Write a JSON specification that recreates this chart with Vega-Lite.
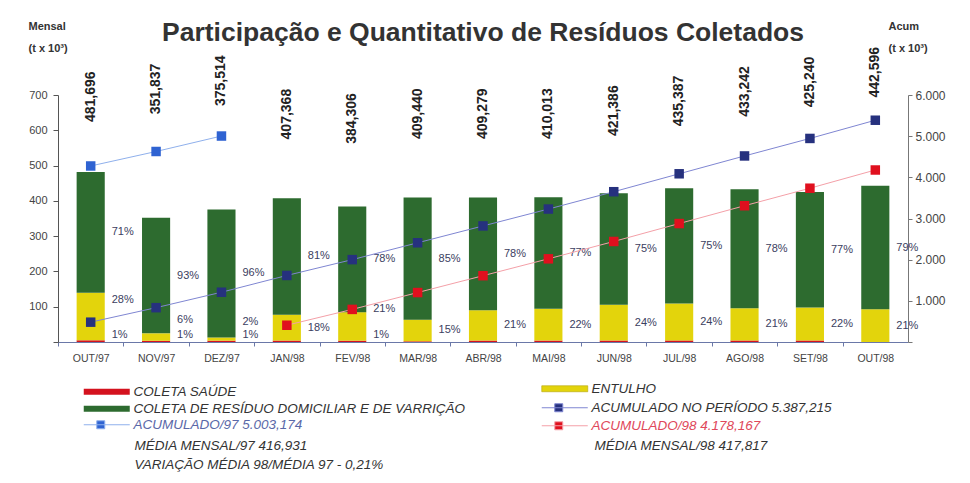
{
  "$schema": "https://vega.github.io/schema/vega-lite/v6.json",
  "width": 850,
  "height": 247,
  "autosize": {"type": "none"},
  "padding": {"left": 58, "top": 95, "right": 62, "bottom": 141},
  "background": "white",
  "title": {"text": "Participação e Quantitativo de Resíduos Coletados", "font": "Liberation Sans", "fontSize": 26.5, "fontWeight": "bold", "color": "#333333", "anchor": "middle", "frame": "group", "offset": 4, "dy": 30},
  "datasets": {
    "m": [
      {"m": "OUT/97", "total": 481.696, "sau": 4.8, "ent": 134.9, "dom": 342.0, "pSau": "1%", "pEnt": "28%", "pDom": "71%", "a97": 4275.823, "aP": 481.696, "a98": null},
      {"m": "NOV/97", "total": 351.837, "sau": 3.5, "ent": 21.1, "dom": 327.2, "pSau": "1%", "pEnt": "6%", "pDom": "93%", "a97": 4627.660, "aP": 833.533, "a98": null},
      {"m": "DEZ/97", "total": 375.514, "sau": 3.8, "ent": 9.0, "dom": 362.7, "pSau": "1%", "pEnt": "2%", "pDom": "96%", "a97": 5003.174, "aP": 1209.047, "a98": null},
      {"m": "JAN/98", "total": 407.368, "sau": 4.1, "ent": 73.3, "dom": 330.0, "pSau": null, "pEnt": "18%", "pDom": "81%", "a97": null, "aP": 1616.415, "a98": 407.368},
      {"m": "FEV/98", "total": 384.306, "sau": 3.8, "ent": 80.7, "dom": 299.8, "pSau": "1%", "pEnt": "21%", "pDom": "78%", "a97": null, "aP": 2000.721, "a98": 791.674},
      {"m": "MAR/98", "total": 409.440, "sau": 2.0, "ent": 61.4, "dom": 346.0, "pSau": null, "pEnt": "15%", "pDom": "85%", "a97": null, "aP": 2410.161, "a98": 1201.114},
      {"m": "ABR/98", "total": 409.279, "sau": 4.1, "ent": 85.9, "dom": 319.3, "pSau": null, "pEnt": "21%", "pDom": "78%", "a97": null, "aP": 2819.440, "a98": 1610.393},
      {"m": "MAI/98", "total": 410.013, "sau": 4.1, "ent": 90.2, "dom": 315.7, "pSau": null, "pEnt": "22%", "pDom": "77%", "a97": null, "aP": 3229.453, "a98": 2020.406},
      {"m": "JUN/98", "total": 421.386, "sau": 4.2, "ent": 101.1, "dom": 316.1, "pSau": null, "pEnt": "24%", "pDom": "75%", "a97": null, "aP": 3650.839, "a98": 2441.792},
      {"m": "JUL/98", "total": 435.387, "sau": 4.4, "ent": 104.5, "dom": 326.5, "pSau": null, "pEnt": "24%", "pDom": "75%", "a97": null, "aP": 4086.226, "a98": 2877.179},
      {"m": "AGO/98", "total": 433.242, "sau": 4.3, "ent": 91.0, "dom": 337.9, "pSau": null, "pEnt": "21%", "pDom": "78%", "a97": null, "aP": 4519.468, "a98": 3310.421},
      {"m": "SET/98", "total": 425.240, "sau": 4.3, "ent": 93.6, "dom": 327.3, "pSau": null, "pEnt": "22%", "pDom": "77%", "a97": null, "aP": 4944.708, "a98": 3735.661},
      {"m": "OUT/98", "total": 442.596, "sau": 0.0, "ent": 92.9, "dom": 349.7, "pSau": null, "pEnt": "21%", "pDom": "79%", "a97": null, "aP": 5387.215, "a98": 4178.167}
    ]
  },
  "data": {"name": "m"},
  "config": {
    "view": {"stroke": null},
    "font": "Liberation Sans",
    "axis": {"labelOverlap": false},
    "legend": {"orient": "none", "padding": 0, "labelFont": "Liberation Sans", "labelFontSize": 13.5, "labelFontStyle": "italic", "labelColor": "#333333", "labelLimit": 700, "symbolSize": 100, "symbolStrokeWidth": 0, "labelOffset": 38, "symbolOpacity": 1}
  },
  "layer": [
    {
      "layer": [
        {
          "transform": [{"fold": ["sau", "ent", "dom"], "as": ["cat", "v"]}, {"calculate": "indexof(['sau','ent','dom'], datum.cat)", "as": "o"}],
          "mark": {"type": "bar"},
          "encoding": {
            "x": {"field": "m", "type": "nominal", "sort": null, "scale": {"type": "band", "paddingInner": 0.57, "paddingOuter": 0.285},
              "axis": {"title": null, "labelAngle": 0, "labelFont": "Liberation Sans", "labelFontSize": 10.5, "labelColor": "#444444", "tickOffset": -32.7, "labelOffset": 32.7, "tickSize": 4, "tickColor": "#6a78a8", "domainColor": "#6a78a8", "labelPadding": 7, "grid": false}},
            "y": {"field": "v", "type": "quantitative", "stack": "zero", "scale": {"domain": [0, 700], "nice": false},
              "axis": {"orient": "left", "values": [0, 100, 200, 300, 400, 500, 600, 700], "labelOverlap": false, "labelExpr": "datum.value == 0 ? '' : datum.label", "grid": false, "title": ["Mensal", "(t x 10³)"], "titleAngle": 0, "titleAlign": "left", "titleBaseline": "top", "titleX": -30, "titleY": -75, "titleFontSize": 11, "titleFontWeight": "bold", "titleColor": "#333333", "titleLineHeight": 22, "labelFontSize": 11, "labelColor": "#444444", "tickSize": 5, "tickColor": "#555555", "domainColor": "#555555", "labelPadding": 6}},
            "color": {"field": "cat", "type": "nominal", "scale": {"domain": ["sau", "ent", "dom"], "range": ["#d4121e", "#e3d40c", "#2d6b2f"]}, "legend": null},
            "order": {"field": "o", "type": "quantitative"}
          }
        },
        {
          "transform": [{"calculate": "datum.sau + datum.ent + datum.dom / 2", "as": "yd"}],
          "mark": {"type": "text", "align": "left", "baseline": "middle", "dx": 21, "fontSize": 11, "color": "#3b4060"},
          "encoding": {
            "x": {"field": "m", "type": "nominal", "sort": null, "scale": {"type": "band", "paddingInner": 0.57, "paddingOuter": 0.285}},
            "y": {"field": "yd", "type": "quantitative", "scale": {"domain": [0, 700], "nice": false},
              "axis": {"orient": "left", "values": [0, 100, 200, 300, 400, 500, 600, 700], "labelOverlap": false, "labelExpr": "datum.value == 0 ? '' : datum.label", "grid": false, "title": ["Mensal", "(t x 10³)"], "titleAngle": 0, "titleAlign": "left", "titleBaseline": "top", "titleX": -30, "titleY": -75, "titleFontSize": 11, "titleFontWeight": "bold", "titleColor": "#333333", "titleLineHeight": 22, "labelFontSize": 11, "labelColor": "#444444", "tickSize": 5, "tickColor": "#555555", "domainColor": "#555555", "labelPadding": 6}},
            "text": {"field": "pDom"}
          }
        },
        {
          "transform": [{"filter": "datum.pSau == null"}, {"calculate": "datum.sau + datum.ent / 2", "as": "ye"}],
          "mark": {"type": "text", "align": "left", "baseline": "middle", "dx": 21, "fontSize": 11, "color": "#3b4060"},
          "encoding": {
            "x": {"field": "m", "type": "nominal", "sort": null, "scale": {"type": "band", "paddingInner": 0.57, "paddingOuter": 0.285}},
            "y": {"field": "ye", "type": "quantitative", "scale": {"domain": [0, 700], "nice": false},
              "axis": {"orient": "left", "values": [0, 100, 200, 300, 400, 500, 600, 700], "labelOverlap": false, "labelExpr": "datum.value == 0 ? '' : datum.label", "grid": false, "title": ["Mensal", "(t x 10³)"], "titleAngle": 0, "titleAlign": "left", "titleBaseline": "top", "titleX": -30, "titleY": -75, "titleFontSize": 11, "titleFontWeight": "bold", "titleColor": "#333333", "titleLineHeight": 22, "labelFontSize": 11, "labelColor": "#444444", "tickSize": 5, "tickColor": "#555555", "domainColor": "#555555", "labelPadding": 6}},
            "text": {"field": "pEnt"}
          }
        },
        {
          "transform": [{"filter": "datum.pSau != null"}, {"calculate": "datum.sau + datum.ent / 2", "as": "ye"}],
          "mark": {"type": "text", "align": "left", "baseline": "middle", "dx": 21, "dy": -17, "fontSize": 11, "color": "#3b4060"},
          "encoding": {
            "x": {"field": "m", "type": "nominal", "sort": null, "scale": {"type": "band", "paddingInner": 0.57, "paddingOuter": 0.285}},
            "y": {"field": "ye", "type": "quantitative", "scale": {"domain": [0, 700], "nice": false},
              "axis": {"orient": "left", "values": [0, 100, 200, 300, 400, 500, 600, 700], "labelOverlap": false, "labelExpr": "datum.value == 0 ? '' : datum.label", "grid": false, "title": ["Mensal", "(t x 10³)"], "titleAngle": 0, "titleAlign": "left", "titleBaseline": "top", "titleX": -30, "titleY": -75, "titleFontSize": 11, "titleFontWeight": "bold", "titleColor": "#333333", "titleLineHeight": 22, "labelFontSize": 11, "labelColor": "#444444", "tickSize": 5, "tickColor": "#555555", "domainColor": "#555555", "labelPadding": 6}},
            "text": {"field": "pEnt"}
          }
        },
        {
          "transform": [{"filter": "datum.pSau != null"}, {"calculate": "0", "as": "yz"}],
          "mark": {"type": "text", "align": "left", "baseline": "middle", "dx": 21, "dy": -7, "fontSize": 11, "color": "#3b4060"},
          "encoding": {
            "x": {"field": "m", "type": "nominal", "sort": null, "scale": {"type": "band", "paddingInner": 0.57, "paddingOuter": 0.285}},
            "y": {"field": "yz", "type": "quantitative", "scale": {"domain": [0, 700], "nice": false},
              "axis": {"orient": "left", "values": [0, 100, 200, 300, 400, 500, 600, 700], "labelOverlap": false, "labelExpr": "datum.value == 0 ? '' : datum.label", "grid": false, "title": ["Mensal", "(t x 10³)"], "titleAngle": 0, "titleAlign": "left", "titleBaseline": "top", "titleX": -30, "titleY": -75, "titleFontSize": 11, "titleFontWeight": "bold", "titleColor": "#333333", "titleLineHeight": 22, "labelFontSize": 11, "labelColor": "#444444", "tickSize": 5, "tickColor": "#555555", "domainColor": "#555555", "labelPadding": 6}},
            "text": {"field": "pSau"}
          }
        },
        {
          "transform": [
            {"calculate": "replace(format(datum.total, '.3f'), '.', ',')", "as": "lbl"},
            {"calculate": "max(datum.total, (datum.a97 || 0) * 7 / 60, datum.aP * 7 / 60) * 0.537 + 427", "as": "ly"}
          ],
          "mark": {"type": "text", "angle": 270, "align": "center", "baseline": "middle", "fontSize": 14, "fontWeight": "bold", "color": "#222222"},
          "encoding": {
            "x": {"field": "m", "type": "nominal", "sort": null, "scale": {"type": "band", "paddingInner": 0.57, "paddingOuter": 0.285}},
            "y": {"field": "ly", "type": "quantitative", "scale": {"domain": [0, 700], "nice": false},
              "axis": {"orient": "left", "values": [0, 100, 200, 300, 400, 500, 600, 700], "labelOverlap": false, "labelExpr": "datum.value == 0 ? '' : datum.label", "grid": false, "title": ["Mensal", "(t x 10³)"], "titleAngle": 0, "titleAlign": "left", "titleBaseline": "top", "titleX": -30, "titleY": -75, "titleFontSize": 11, "titleFontWeight": "bold", "titleColor": "#333333", "titleLineHeight": 22, "labelFontSize": 11, "labelColor": "#444444", "tickSize": 5, "tickColor": "#555555", "domainColor": "#555555", "labelPadding": 6}},
            "text": {"field": "lbl"}
          }
        },
        {
          "transform": [{"filter": "false"}],
          "mark": {"type": "square", "opacity": 1},
          "encoding": {"color": {"datum": "COLETA SAÚDE", "type": "nominal", "scale": {"range": ["#d4121e"]},
            "legend": {"title": null, "legendX": 24, "legendY": 290, "symbolType": "M-1,-0.6H8.2V0.6H-1Z",
              "encode": {"symbols": {"update": {"fill": {"value": "#d4121e"}, "opacity": {"value": 1}}}}}}}
        },
        {
          "transform": [{"filter": "false"}],
          "mark": {"type": "square", "opacity": 1},
          "encoding": {"color": {"datum": "COLETA DE RESÍDUO DOMICILIAR E DE VARRIÇÃO", "type": "nominal", "scale": {"range": ["#2d6b2f"]},
            "legend": {"title": null, "legendX": 24, "legendY": 307, "symbolType": "M-1,-0.6H8.2V0.6H-1Z",
              "encode": {"symbols": {"update": {"fill": {"value": "#2d6b2f"}, "opacity": {"value": 1}}}}}}}
        },
        {
          "transform": [{"filter": "false"}],
          "mark": {"type": "square", "opacity": 1},
          "encoding": {"color": {"datum": "ENTULHO", "type": "nominal", "scale": {"range": ["#e3d40c"]},
            "legend": {"title": null, "legendX": 482, "legendY": 287, "symbolType": "M-1,-0.6H8.2V0.6H-1Z",
              "encode": {"symbols": {"update": {"fill": {"value": "#e3d40c"}, "stroke": {"value": "#b3a40a"}, "strokeWidth": {"value": 0.6}, "opacity": {"value": 1}}}}}}}
        },
        {
          "transform": [{"filter": "false"}],
          "mark": {"type": "square", "opacity": 1},
          "encoding": {"color": {"datum": "MÉDIA MENSAL/97 416,931", "type": "nominal", "scale": {"range": ["#ffffff"]},
            "legend": {"title": null, "legendX": 63, "legendY": 344, "symbolSize": 0, "symbolOpacity": 0, "labelOffset": 0}}}
        },
        {
          "transform": [{"filter": "false"}],
          "mark": {"type": "square", "opacity": 1},
          "encoding": {"color": {"datum": "VARIAÇÃO MÉDIA 98/MÉDIA 97 - 0,21%", "type": "nominal", "scale": {"range": ["#ffffff"]},
            "legend": {"title": null, "legendX": 63, "legendY": 363, "symbolSize": 0, "symbolOpacity": 0, "labelOffset": 0}}}
        },
        {
          "transform": [{"filter": "false"}],
          "mark": {"type": "square", "opacity": 1},
          "encoding": {"color": {"datum": "MÉDIA MENSAL/98 417,817", "type": "nominal", "scale": {"range": ["#ffffff"]},
            "legend": {"title": null, "legendX": 523, "legendY": 344, "symbolSize": 0, "symbolOpacity": 0, "labelOffset": 0}}}
        }
      ],
      "resolve": {"scale": {"color": "independent"}}
    },
    {
      "layer": [
        {
          "transform": [{"filter": "datum.a97 != null"}],
          "mark": {"type": "line", "color": "#8fb0ec", "strokeWidth": 1},
          "encoding": {
            "x": {"field": "m", "type": "nominal", "sort": null, "scale": {"type": "band", "paddingInner": 0.57, "paddingOuter": 0.285}},
            "y": {"field": "a97", "type": "quantitative", "scale": {"domain": [0, 6000], "nice": false},
              "axis": {"orient": "right", "values": [0, 1000, 2000, 3000, 4000, 5000, 6000], "labelOverlap": false, "labelExpr": "datum.value == 0 ? '' : replace(format(datum.value, ','), ',', '.')", "grid": false, "title": ["Acum", "(t x 10³)"], "titleAngle": 0, "titleAlign": "left", "titleBaseline": "top", "titleX": -20, "titleY": -75, "titleFontSize": 11, "titleFontWeight": "bold", "titleColor": "#333333", "titleLineHeight": 22, "labelFontSize": 12, "labelColor": "#444444", "tickSize": 4, "tickColor": "#777777", "domainColor": "#777777", "labelPadding": 3}}
          }
        },
        {
          "transform": [{"filter": "datum.a97 != null"}],
          "mark": {"type": "square", "size": 90, "opacity": 1, "filled": true},
          "encoding": {
            "x": {"field": "m", "type": "nominal", "sort": null, "scale": {"type": "band", "paddingInner": 0.57, "paddingOuter": 0.285}},
            "y": {"field": "a97", "type": "quantitative", "scale": {"domain": [0, 6000], "nice": false},
              "axis": {"orient": "right", "values": [0, 1000, 2000, 3000, 4000, 5000, 6000], "labelOverlap": false, "labelExpr": "datum.value == 0 ? '' : replace(format(datum.value, ','), ',', '.')", "grid": false, "title": ["Acum", "(t x 10³)"], "titleAngle": 0, "titleAlign": "left", "titleBaseline": "top", "titleX": -20, "titleY": -75, "titleFontSize": 11, "titleFontWeight": "bold", "titleColor": "#333333", "titleLineHeight": 22, "labelFontSize": 12, "labelColor": "#444444", "tickSize": 4, "tickColor": "#777777", "domainColor": "#777777", "labelPadding": 3}},
            "color": {"datum": "ACUMULADO/97 5.003,174", "type": "nominal", "scale": {"range": ["#2f63d2"]},
              "legend": {"title": null, "legendX": 24, "legendY": 323, "symbolType": "M-1,0H8.2M1.6,-0.8H3.2V0.8H1.6Z", "labelColor": "#5a68a8",
                "encode": {"symbols": {"update": {"stroke": {"value": "#8fb0ec"}, "strokeWidth": {"value": 1}}}}}}
          }
        },
        {
          "mark": {"type": "line", "color": "#7f86d2", "strokeWidth": 1},
          "encoding": {
            "x": {"field": "m", "type": "nominal", "sort": null, "scale": {"type": "band", "paddingInner": 0.57, "paddingOuter": 0.285}},
            "y": {"field": "aP", "type": "quantitative", "scale": {"domain": [0, 6000], "nice": false},
              "axis": {"orient": "right", "values": [0, 1000, 2000, 3000, 4000, 5000, 6000], "labelOverlap": false, "labelExpr": "datum.value == 0 ? '' : replace(format(datum.value, ','), ',', '.')", "grid": false, "title": ["Acum", "(t x 10³)"], "titleAngle": 0, "titleAlign": "left", "titleBaseline": "top", "titleX": -20, "titleY": -75, "titleFontSize": 11, "titleFontWeight": "bold", "titleColor": "#333333", "titleLineHeight": 22, "labelFontSize": 12, "labelColor": "#444444", "tickSize": 4, "tickColor": "#777777", "domainColor": "#777777", "labelPadding": 3}}
          }
        },
        {
          "mark": {"type": "square", "size": 90, "opacity": 1, "filled": true},
          "encoding": {
            "x": {"field": "m", "type": "nominal", "sort": null, "scale": {"type": "band", "paddingInner": 0.57, "paddingOuter": 0.285}},
            "y": {"field": "aP", "type": "quantitative", "scale": {"domain": [0, 6000], "nice": false},
              "axis": {"orient": "right", "values": [0, 1000, 2000, 3000, 4000, 5000, 6000], "labelOverlap": false, "labelExpr": "datum.value == 0 ? '' : replace(format(datum.value, ','), ',', '.')", "grid": false, "title": ["Acum", "(t x 10³)"], "titleAngle": 0, "titleAlign": "left", "titleBaseline": "top", "titleX": -20, "titleY": -75, "titleFontSize": 11, "titleFontWeight": "bold", "titleColor": "#333333", "titleLineHeight": 22, "labelFontSize": 12, "labelColor": "#444444", "tickSize": 4, "tickColor": "#777777", "domainColor": "#777777", "labelPadding": 3}},
            "color": {"datum": "ACUMULADO NO PERÍODO 5.387,215", "type": "nominal", "scale": {"range": ["#26317e"]},
              "legend": {"title": null, "legendX": 482, "legendY": 306, "symbolType": "M-1,0H8.2M1.6,-0.8H3.2V0.8H1.6Z",
                "encode": {"symbols": {"update": {"stroke": {"value": "#7f86d2"}, "strokeWidth": {"value": 1}}}}}}
          }
        },
        {
          "transform": [{"filter": "datum.a98 != null"}],
          "mark": {"type": "line", "color": "#f4a0a8", "strokeWidth": 1},
          "encoding": {
            "x": {"field": "m", "type": "nominal", "sort": null, "scale": {"type": "band", "paddingInner": 0.57, "paddingOuter": 0.285}},
            "y": {"field": "a98", "type": "quantitative", "scale": {"domain": [0, 6000], "nice": false},
              "axis": {"orient": "right", "values": [0, 1000, 2000, 3000, 4000, 5000, 6000], "labelOverlap": false, "labelExpr": "datum.value == 0 ? '' : replace(format(datum.value, ','), ',', '.')", "grid": false, "title": ["Acum", "(t x 10³)"], "titleAngle": 0, "titleAlign": "left", "titleBaseline": "top", "titleX": -20, "titleY": -75, "titleFontSize": 11, "titleFontWeight": "bold", "titleColor": "#333333", "titleLineHeight": 22, "labelFontSize": 12, "labelColor": "#444444", "tickSize": 4, "tickColor": "#777777", "domainColor": "#777777", "labelPadding": 3}}
          }
        },
        {
          "transform": [{"filter": "datum.a98 != null"}],
          "mark": {"type": "square", "size": 90, "opacity": 1, "filled": true},
          "encoding": {
            "x": {"field": "m", "type": "nominal", "sort": null, "scale": {"type": "band", "paddingInner": 0.57, "paddingOuter": 0.285}},
            "y": {"field": "a98", "type": "quantitative", "scale": {"domain": [0, 6000], "nice": false},
              "axis": {"orient": "right", "values": [0, 1000, 2000, 3000, 4000, 5000, 6000], "labelOverlap": false, "labelExpr": "datum.value == 0 ? '' : replace(format(datum.value, ','), ',', '.')", "grid": false, "title": ["Acum", "(t x 10³)"], "titleAngle": 0, "titleAlign": "left", "titleBaseline": "top", "titleX": -20, "titleY": -75, "titleFontSize": 11, "titleFontWeight": "bold", "titleColor": "#333333", "titleLineHeight": 22, "labelFontSize": 12, "labelColor": "#444444", "tickSize": 4, "tickColor": "#777777", "domainColor": "#777777", "labelPadding": 3}},
            "color": {"datum": "ACUMULADO/98 4.178,167", "type": "nominal", "scale": {"range": ["#e0101e"]},
              "legend": {"title": null, "legendX": 482, "legendY": 324, "symbolType": "M-1,0H8.2M1.6,-0.8H3.2V0.8H1.6Z", "labelColor": "#e0485a",
                "encode": {"symbols": {"update": {"stroke": {"value": "#f4a0a8"}, "strokeWidth": {"value": 1}}}}}}
          }
        }
      ],
      "resolve": {"scale": {"color": "independent"}}
    }
  ],
  "resolve": {"scale": {"y": "independent", "color": "independent"}}
}
